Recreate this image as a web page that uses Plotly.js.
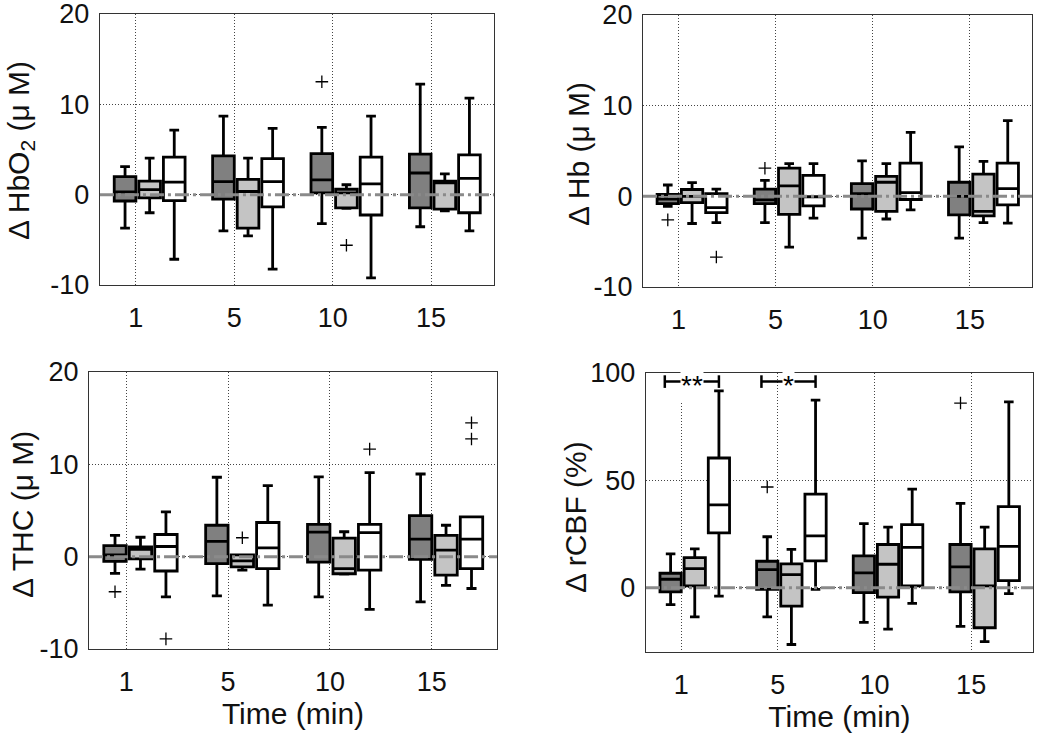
<!DOCTYPE html>
<html>
<head>
<meta charset="utf-8">
<script src="https://cdn.plot.ly/plotly-3.0.1.min.js"></script>
<style>
  body { margin: 0; background: #fff; }
  #chart { width: 1050px; height: 734px; }
</style>
</head>
<body>
<div id="chart"></div>
<script>
// Time points shown on every x axis
const timePoints = ['1', '5', '10', '15'];

// Each row: [lower whisker, Q1, median, Q3, upper whisker], one row per time point
const hbo2Dark  = [[-3.7, -0.7, 0.3, 2.0, 3.1], [-4.0, -0.5, 1.45, 4.3, 8.7], [-3.2, 0.2, 1.65, 4.55, 7.45], [-3.55, -1.45, 2.4, 4.5, 12.25]];
const hbo2Light = [[-2.0, -0.35, 0.55, 1.5, 4.05], [-4.55, -3.7, 0.35, 1.7, 4.05], [-1.5, -1.45, 0.2, 0.6, 1.1], [-1.8, -1.6, 1.3, 1.5, 2.3]];
const hbo2White = [[-7.15, -0.65, 1.4, 4.15, 7.15], [-8.25, -1.35, 1.45, 4.0, 7.35], [-9.2, -2.25, 1.2, 4.15, 8.7], [-4.0, -2.0, 1.8, 4.4, 10.7]];

const hbDark  = [[-1.1, -0.8, -0.3, 0.2, 1.25], [-2.9, -0.8, -0.4, 0.8, 1.75], [-4.6, -1.4, 0.3, 1.4, 3.9], [-4.6, -2.05, 0.0, 1.55, 5.45]];
const hbLight = [[-3.0, -0.7, 0.0, 0.75, 1.5], [-5.6, -2.0, 1.15, 3.1, 3.6], [-2.5, -1.65, 1.55, 2.2, 3.6], [-2.9, -2.15, -1.65, 2.45, 3.85]];
const hbWhite = [[-2.9, -1.8, -1.25, 0.3, 0.8], [-2.4, -1.05, -0.05, 2.3, 3.6], [-1.5, -0.35, 0.4, 3.65, 7.05], [-2.95, -0.95, 0.85, 3.65, 8.35]];

const thcDark  = [[-1.8, -0.5, 0.2, 1.2, 2.3], [-4.25, -0.75, 1.65, 3.4, 8.6], [-4.35, -0.6, 2.65, 3.5, 8.65], [-4.9, -0.3, 1.9, 4.45, 8.95]];
const thcLight = [[-1.35, -0.25, 0.8, 1.05, 2.1], [-1.45, -1.1, -0.45, 0.2, 0.2], [-1.9, -1.85, -1.3, 2.0, 2.7], [-3.1, -2.0, 0.7, 2.3, 3.4]];
const thcWhite = [[-4.35, -1.55, 1.1, 2.4, 4.85], [-5.25, -1.3, 0.95, 3.7, 7.7], [-5.7, -1.45, 2.6, 3.5, 9.1], [-3.45, -1.3, 1.9, 4.3, 4.3]];

const cbfDark  = [[-7.9, -2.0, 3.9, 6.7, 15.7], [-13.6, -0.8, 8.4, 12.3, 23.7], [-16.2, -2.3, 6.9, 14.8, 29.8], [-18.1, -2.0, 9.7, 20.1, 39.3]];
const cbfLight = [[-13.6, 0.8, 8.9, 14.0, 18.1], [-26.5, -8.6, 6.1, 11.1, 17.8], [-19.3, -4.4, 10.9, 20.1, 28.2], [-25.2, -18.7, 0.8, 18.1, 28.2]];
const cbfWhite = [[-4.0, 25.5, 38.6, 60.4, 91.7], [-0.8, 12.5, 24.1, 43.6, 87.4], [-7.3, 0.8, 18.8, 29.4, 45.9], [-2.8, 3.3, 19.2, 37.7, 86.6]];

// Outliers: [time index, group index, value]
const hbo2Outliers = [[2, 0, 12.5], [2, 1, -5.6]];
const hbOutliers   = [[0, 0, -2.6], [0, 2, -6.7], [1, 0, 3.1]];
const thcOutliers  = [[0, 0, -3.8], [0, 2, -8.9], [1, 1, 2.05], [2, 2, 11.65], [3, 2, 14.5], [3, 2, 12.75]];
const cbfOutliers  = [[1, 0, 46.9], [3, 0, 86.0]];

// Significant differences in rCBF: time index, groups compared, label
const sigTime  = [0, 1];
const sigFrom  = [0, 0];
const sigTo    = [2, 2];
const sigLabel = ['**', '*'];

// y tick values
const concTicks = [-10, 0, 10, 20];
const cbfTicks  = [0, 50, 100];

// Styling
const fills = ['#808080', '#c4c4c4', '#ffffff'];
const offsets = [-0.11, 0.14, 0.39];
const FONT = 'Liberation Sans, Arial, sans-serif';

const panels = [
    { id: '',  boxes: [hbo2Dark, hbo2Light, hbo2White], outliers: hbo2Outliers, title: 'Δ HbO<sub>2</sub> (μ M)', titleX: 20,  titleY: 151 },
    { id: '2', boxes: [hbDark, hbLight, hbWhite],       outliers: hbOutliers,   title: 'Δ Hb (μ M)',            titleX: 578, titleY: 154 },
    { id: '3', boxes: [thcDark, thcLight, thcWhite],    outliers: thcOutliers,  title: 'Δ THC (μ M)',           titleX: 22,  titleY: 515 },
    { id: '4', boxes: [cbfDark, cbfLight, cbfWhite],    outliers: cbfOutliers,  title: 'Δ rCBF (%)',            titleX: 575, titleY: 517 }
];

const W = 1050, H = 734;
const traces = [];
const annotations = [];

panels.forEach(p => {
    p.boxes.forEach((rows, g) => {
        traces.push({
            type: 'box',
            xaxis: 'x' + p.id,
            yaxis: 'y' + p.id,
            x: timePoints.map((t, i) => i + 1 + offsets[g]),
            lowerfence: rows.map(r => r[0]),
            q1: rows.map(r => r[1]),
            median: rows.map(r => r[2]),
            q3: rows.map(r => r[3]),
            upperfence: rows.map(r => r[4]),
            width: 0.22,
            whiskerwidth: 0.45,
            fillcolor: fills[g],
            line: { color: '#000', width: 2.8 },
            boxpoints: false,
            hoverinfo: 'skip',
            showlegend: false
        });
    });

    traces.push({
        type: 'scatter',
        mode: 'markers',
        xaxis: 'x' + p.id,
        yaxis: 'y' + p.id,
        x: p.outliers.map(o => o[0] + 1 + offsets[o[1]]),
        y: p.outliers.map(o => o[2]),
        marker: { symbol: 'cross-thin-open', size: 9, color: '#000', line: { color: '#000', width: 1.3 } },
        hoverinfo: 'skip',
        showlegend: false
    });

    // y title, placed by hand like the MATLAB figure
    annotations.push({
        xref: 'paper', yref: 'paper',
        x: p.titleX / W, y: 1 - p.titleY / H,
        xanchor: 'center', yanchor: 'middle',
        textangle: -90,
        text: p.title,
        showarrow: false,
        font: { family: FONT, size: 30, color: '#111' }
    });
});

// significance brackets on the rCBF panel
sigTime.forEach((t, k) => {
    const x0 = t + 1 + offsets[sigFrom[k]] - 0.06;
    const x1 = t + 1 + offsets[sigTo[k]];
    traces.push({
        type: 'scatter',
        mode: 'lines+markers',
        xaxis: 'x4',
        yaxis: 'y4',
        x: [x0, x1],
        y: [96, 96],
        line: { color: '#000', width: 2.5 },
        marker: { symbol: 'line-ns-open', size: 9, color: '#000', line: { color: '#000', width: 2.5 } },
        hoverinfo: 'skip',
        showlegend: false
    });
    annotations.push({
        xref: 'x4', yref: 'y4',
        x: (x0 + x1) / 2, y: 96,
        text: sigLabel[k],
        showarrow: false,
        bgcolor: '#fff',
        borderpad: 0,
        yshift: -4,
        font: { family: FONT, size: 28, color: '#000' }
    });
});

function xAxis(domain, anchor, withTitle) {
    return {
        domain: domain,
        anchor: anchor,
        range: [0.635, 4.64],
        tickvals: [1, 2, 3, 4],
        ticktext: timePoints,
        showgrid: true,
        gridcolor: '#444',
        griddash: '1px,2px',
        gridwidth: 1,
        zeroline: false,
        showline: true,
        mirror: true,
        linecolor: '#333',
        linewidth: 1.2,
        ticks: '',
        ticklabelstandoff: 8,
        tickfont: { family: FONT, size: 27, color: '#111' },
        title: withTitle ? { text: 'Time (min)', font: { family: FONT, size: 30, color: '#111' }, standoff: 4 } : { text: '' }
    };
}

function yAxis(domain, anchor, range, tickvals) {
    return {
        domain: domain,
        anchor: anchor,
        range: range,
        tickvals: tickvals,
        ticktext: tickvals.map(v => String(v)),
        ticklabeloverflow: 'allow',
        showgrid: true,
        gridcolor: '#444',
        griddash: '1px,2px',
        gridwidth: 1,
        zeroline: false,
        showline: true,
        mirror: true,
        linecolor: '#333',
        linewidth: 1.2,
        ticks: '',
        ticklabelstandoff: 4,
        tickfont: { family: FONT, size: 27, color: '#111' },
        title: { text: '' }
    };
}

const zeroLine = (id) => ({
    type: 'line',
    xref: 'x' + id + ' domain', yref: 'y' + id,
    x0: 0, x1: 1, y0: 0, y1: 0,
    layer: 'above',
    line: { color: '#8a8a8a', width: 3, dash: '14px,4px,3px,4px' }
});

const layout = {
    width: W,
    height: H,
    margin: { l: 0, r: 0, t: 0, b: 0 },
    paper_bgcolor: '#fff',
    plot_bgcolor: '#fff',
    showlegend: false,
    xaxis:  xAxis([0.0952, 0.4705], 'y', false),
    yaxis:  yAxis([0.6117, 0.9809], 'x', [-10, 20], concTicks),
    xaxis2: xAxis([0.6124, 0.9829], 'y2', false),
    yaxis2: yAxis([0.609, 0.9796], 'x2', [-10, 20], concTicks),
    xaxis3: xAxis([0.0848, 0.4733], 'y3', true),
    yaxis3: yAxis([0.1158, 0.4932], 'x3', [-10, 20], concTicks),
    xaxis4: xAxis([0.6152, 0.9838], 'y4', true),
    yaxis4: yAxis([0.1117, 0.4918], 'x4', [-30, 100], cbfTicks),
    shapes: panels.map(p => zeroLine(p.id)),
    annotations: annotations
};

Plotly.newPlot('chart', traces, layout, { displayModeBar: false, staticPlot: true });
</script>
</body>
</html>
